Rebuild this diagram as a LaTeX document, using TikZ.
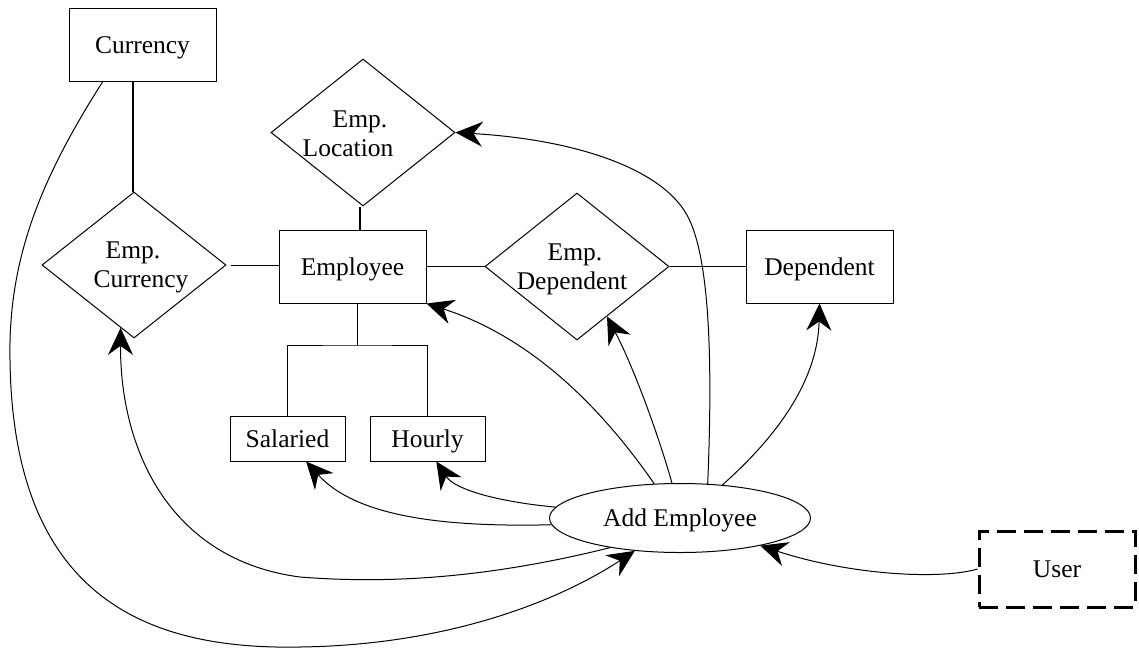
\documentclass[tikz,border=0pt]{standalone}
\usepackage{fontspec}
\setmainfont{Liberation Serif}
\usetikzlibrary{shapes.geometric,arrows.meta}
\begin{document}
\begin{tikzpicture}[x=1pt,y=-1pt,
  every node/.style={font=\fontsize{25.5}{29}\selectfont},
  box/.style={draw, line width=1pt, rectangle, inner sep=0pt, text height=17pt, text depth=0pt},
  rel/.style={draw, line width=1pt, diamond, inner sep=0pt},
  lbl/.style={inner sep=0pt, text height=17pt, text depth=0pt},
  link/.style={line width=1pt},
  heavylink/.style={line width=2pt},
  flow/.style={line width=1pt, -{Stealth[length=27pt,width=25pt,inset=9pt]}}]
\useasboundingbox (0,0) rectangle (1139,648);
% entity boxes
\node[box, minimum width=147pt, minimum height=73pt] (cur) at (142.5,44.5) {Currency\hspace{20pt}};
\node[box, minimum width=147pt, minimum height=73pt] (emp) at (352.5,266.5) {Employee\hspace{11pt}};
\node[box, minimum width=147pt, minimum height=73pt] (dep) at (819.5,266.5) {Dependent\hspace{11pt}};
\node[box, minimum width=115pt, minimum height=45pt] (sal) at (287.5,438.5) {Salaried\hspace{13pt}};
\node[box, minimum width=115pt, minimum height=45pt] (hou) at (427.5,438.5) {Hourly\hspace{10pt}};
\node[box, dash pattern=on 19pt off 8pt, line width=3pt, minimum width=156pt, minimum height=76pt] (user) at (1057,569) {User\hspace{14pt}};
% process
\node[draw, ellipse, line width=1pt, minimum width=261pt, minimum height=69pt, inner sep=0pt, text height=17pt, text depth=0pt] (ae) at (680,518) {Add Employee\hspace{17pt}};
% relationships
\node[rel, minimum width=184pt, minimum height=146pt] (ecur) at (134,265) {};
\node[rel, minimum width=184pt, minimum height=147pt] (eloc) at (363,132.5) {};
\node[rel, minimum width=184pt, minimum height=147pt] (edep) at (577,266.5) {};
\node[lbl] (ecur1) at (133,250) {Emp.};
\node[lbl] (ecur2) at (141,279) {Currency};
\node[lbl] (eloc1) at (360,118.5) {Emp.};
\node[lbl] (eloc2) at (348,147.5) {Location};
\node[lbl] (edep1) at (575,251.5) {Emp.};
\node[lbl] (edep2) at (572,280.5) {Dependent};
% structural lines
\draw[heavylink] ([xshift=-1pt]ecur.north) -- ([xshift=-1pt]ecur.north |- cur.south);
\draw[heavylink] ([xshift=-3pt]eloc.south) -- ([xshift=-3pt]eloc.south |- emp.north);
\draw[link] ([xshift=4pt]ecur.east) -- (ecur.east -| emp.west);
\draw[link] (emp.east) -- (edep.west);
\draw[link] (edep.east) -- (dep.west);
\coordinate (fork) at (357,345);
\draw[link] (fork |- emp.south) -- (fork);
\draw[link] (sal.north) |- (fork) -| (hou.north);
% flows
\draw[flow] (ae.51) .. controls (712,380) and (712,260) .. (687,215) .. controls (662,170) and (580,140) .. (eloc.east);
\draw[flow] (ae.38) .. controls (790,425) and (818,370) .. (dep.south);
\draw[flow] (ae.103) .. controls (660,440) and (635,370) .. (edep.-59);
\draw[flow] (ae.127) .. controls (610,420) and (540,340) .. (emp.south east);
\draw[flow] (ae.175) .. controls (500,502) and (455,490) .. (hou.-69);
\draw[flow] (ae.183) .. controls (420,528) and (350,510) .. (sal.-51);
\draw[flow] (ae.203) .. controls (500,575) and (400,585) .. (300,577) .. controls (170,560) and (120,450) .. (ecur.-102);
\draw[flow] (cur.-137) .. controls (40,180) and (8,260) .. (10,360) .. controls (13,600) and (150,650) .. (300,647) .. controls (450,645) and (560,600) .. (ae.216);
\draw[flow] (user.west) .. controls (940,580) and (850,575) .. (ae.341);
\end{tikzpicture}
\end{document}
